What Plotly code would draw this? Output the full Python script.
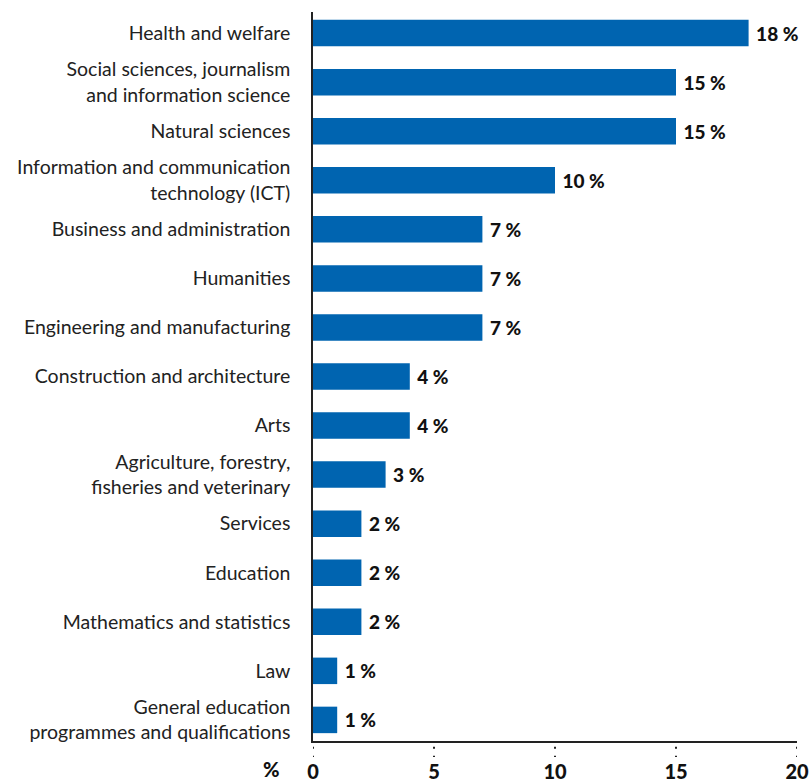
import plotly.graph_objects as go

categories = [
    "Health and welfare",
    "Social sciences, journalism<br>and information science",
    "Natural sciences",
    "Information and communication<br>technology (ICT)",
    "Business and administration",
    "Humanities",
    "Engineering and manufacturing",
    "Construction and architecture",
    "Arts",
    "Agriculture, forestry,<br>fisheries and veterinary",
    "Services",
    "Education",
    "Mathematics and statistics",
    "Law",
    "General education<br>programmes and qualifications",
]
values = [18, 15, 15, 10, 7, 7, 7, 4, 4, 3, 2, 2, 2, 1, 1]
labels = [f"\u00a0{v} %" for v in values]
tick_vals = [0, 5, 10, 15, 20]

BLUE = "#0064B0"
FONT = "Lato"

fig = go.Figure()
fig.add_trace(go.Bar(
    x=values, y=categories, orientation="h",
    marker=dict(color=BLUE, line=dict(width=0)),
    width=0.54,
    text=labels, textposition="outside", cliponaxis=False,
    textfont=dict(family=FONT, size=19, color="#111111", weight=900),
    hoverinfo="skip",
))

# dotted tick marks below the x axis
for tv in tick_vals:
    fig.add_shape(type="line", xref="x", yref="paper", x0=tv, x1=tv, y0=-0.008, y1=-0.022,
                  line=dict(color="#222222", width=2, dash="2px,7px"))

fig.add_annotation(text="%", xref="paper", yref="paper", x=-0.085, y=-0.019,
                   xanchor="center", yanchor="top", showarrow=False,
                   font=dict(family=FONT, size=20, color="#111111", weight=900))

fig.update_layout(
    width=812, height=782,
    margin=dict(l=313, r=15, t=12, b=41),
    plot_bgcolor="white", paper_bgcolor="white",
    showlegend=False,
    bargap=0.46,
    xaxis=dict(range=[0, 20], tickvals=tick_vals, showgrid=False, zeroline=False,
               showline=True, linecolor="#222222", linewidth=1.5,
               ticks="", ticklabelstandoff=12, automargin=False,
               tickfont=dict(family=FONT, size=20, color="#111111", weight=900)),
    yaxis=dict(range=[14.43, -0.43], showgrid=False, zeroline=False,
               showline=True, linecolor="#222222", linewidth=1.5,
               ticks="", ticklabelstandoff=17, automargin=False,
               tickfont=dict(family=FONT, size=19.5, color="#222222")),
)

fig.write_html(
    "out.html",
    config={"displayModeBar": False},
    post_script="document.body.style.margin='0';document.documentElement.style.overflow='hidden';",
)
